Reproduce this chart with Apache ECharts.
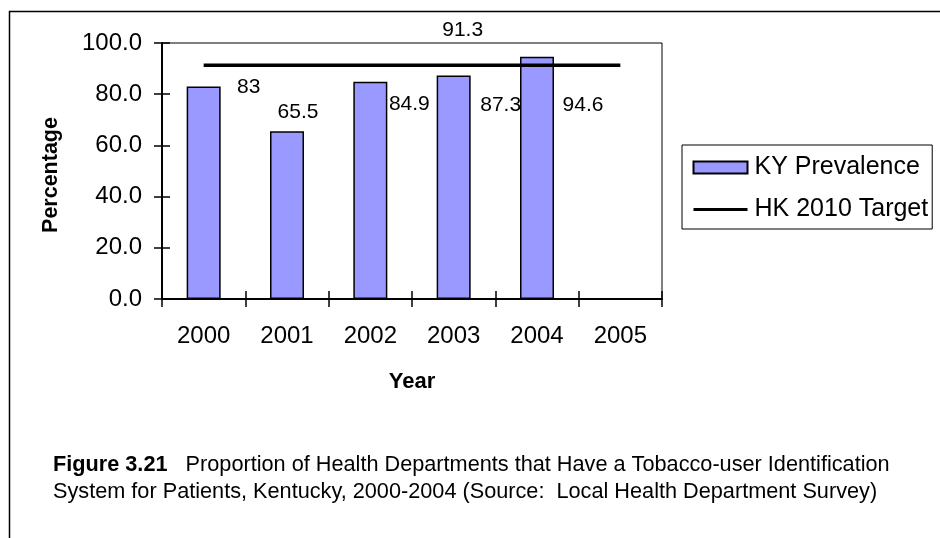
<!DOCTYPE html>
<html>
  <head>
    <meta charset="utf-8" />
    <title>Figure 3.21</title>
    <script src="https://cdn.jsdelivr.net/npm/echarts@6/dist/echarts.min.js"></script>
  </head>
  <body style="margin: 0">
    <div id="main" style="width: 940px; height: 538px"></div>

    <script>
      // 数据
      var years = ["2000", "2001", "2002", "2003", "2004", "2005"];
      var kyPrevalence = [83, 65.5, 84.9, 87.3, 94.6, null];
      var hkTarget = [91.3, 91.3, 91.3, 91.3, 91.3, 91.3];
      var yTicks = [0, 20, 40, 60, 80, 100];

      // 标签位置（相对柱子左上角）
      var barLabelPos = [[62, 1], [28, -19], [56, 23], [64, 29.5], [63, 48]];

      var font = "Liberation Sans, Arial, sans-serif";
      var myChart = echarts.init(document.getElementById("main"));

      var barData = kyPrevalence.map(function (v, i) {
        if (v === null) return "-";
        return {
          value: v,
          label: { position: barLabelPos[i] },
        };
      });
      var lineData = hkTarget.map(function (v, i) {
        if (i !== 3) return v;
        return {
          value: v,
          label: { show: true, position: "top", distance: 5, offset: [9, -19] },
        };
      });

      var tickStyle = { color: "#000", width: 1.5 };

      var option = {
        backgroundColor: "#fff",
        textStyle: { fontFamily: font, color: "#000" },
        title: {
          text:
            "{b|Figure 3.21}   Proportion of Health Departments that Have a Tobacco-user Identification\n" +
            "System for Patients, Kentucky, 2000-2004 (Source:  Local Health Department Survey)",
          left: 53,
          top: 452,
          padding: 0,
          textStyle: {
            fontFamily: font,
            fontSize: 21.7,
            fontWeight: "normal",
            color: "#000",
            lineHeight: 27,
            rich: {
              b: { fontFamily: font, fontSize: 21.7, fontWeight: "bold", lineHeight: 27 },
            },
          },
        },
        graphic: [
          {
            type: "rect",
            shape: { x: 9.5, y: 11.5, width: 1000, height: 1000 },
            style: { fill: "none", stroke: "#000", lineWidth: 1.5 },
            silent: true,
          },
        ],
        legend: {
          orient: "vertical",
          left: 682,
          top: 145,
          itemWidth: 54,
          itemHeight: 12,
          itemGap: 17,
          padding: [10, 4, 7, 10],
          borderColor: "#000",
          borderWidth: 1,
          textStyle: { fontFamily: font, fontSize: 25, color: "#000", padding: [0, 0, 0, 2] },
          data: [
            { name: "KY Prevalence", icon: "rect" },
            {
              name: "HK 2010 Target",
              itemStyle: { opacity: 0 },
              lineStyle: { color: "#000", width: 3 },
            },
          ],
        },
        grid: {
          left: 162,
          right: 278,
          top: 43,
          bottom: 239,
          show: true,
          borderColor: "#000",
          borderWidth: 1,
        },
        xAxis: [
          {
            type: "category",
            data: years,
            axisLine: { lineStyle: { color: "#000", width: 2 } },
            axisTick: { show: true, length: 8, lineStyle: tickStyle },
            axisLabel: { fontFamily: font, fontSize: 24, color: "#000", margin: 25 },
            name: "Year",
            nameLocation: "middle",
            nameGap: 72,
            nameTextStyle: { fontFamily: font, fontSize: 22, fontWeight: "bold", color: "#000" },
          },
          {
            type: "category",
            data: years,
            position: "bottom",
            axisLine: { show: false },
            axisTick: { show: true, inside: true, length: 8, lineStyle: tickStyle },
            axisLabel: { show: false },
          },
        ],
        yAxis: [
          {
            type: "value",
            min: yTicks[0],
            max: yTicks[yTicks.length - 1],
            interval: 20,
            splitLine: { show: false },
            axisLine: { show: true, lineStyle: { color: "#000", width: 2 } },
            axisTick: { show: true, length: 8, lineStyle: tickStyle },
            axisLabel: {
              fontFamily: font,
              fontSize: 24,
              color: "#000",
              margin: 20,
              formatter: function (v) {
                return v.toFixed(1);
              },
            },
            name: "Percentage",
            nameLocation: "middle",
            nameGap: 100,
            nameRotate: 90,
            nameTextStyle: {
              fontFamily: font,
              fontSize: 21.5,
              fontWeight: "bold",
              color: "#000",
              padding: [0, 8, 0, 0],
            },
          },
          {
            type: "value",
            position: "left",
            min: yTicks[0],
            max: yTicks[yTicks.length - 1],
            interval: 20,
            splitLine: { show: false },
            axisLine: { show: false },
            axisTick: { show: true, inside: true, length: 8, lineStyle: tickStyle },
            axisLabel: { show: false },
          },
        ],
        series: [
          {
            name: "KY Prevalence",
            type: "bar",
            barWidth: 34,
            data: barData,
            itemStyle: { color: "#9999ff", borderColor: "#000", borderWidth: 1.5 },
            label: {
              show: true,
              fontFamily: font,
              fontSize: 21,
              color: "#000",
              align: "center",
              verticalAlign: "middle",
            },
            z: 2,
          },
          {
            name: "HK 2010 Target",
            type: "line",
            data: lineData,
            symbol: "circle",
            symbolSize: 1,
            showSymbol: true,
            lineStyle: { color: "#000", width: 3.5 },
            itemStyle: { color: "rgba(0,0,0,0)" },
            label: { fontFamily: font, fontSize: 21, color: "#000" },
            z: 3,
          },
        ],
      };

      myChart.setOption(option);
    </script>
  </body>
</html>
